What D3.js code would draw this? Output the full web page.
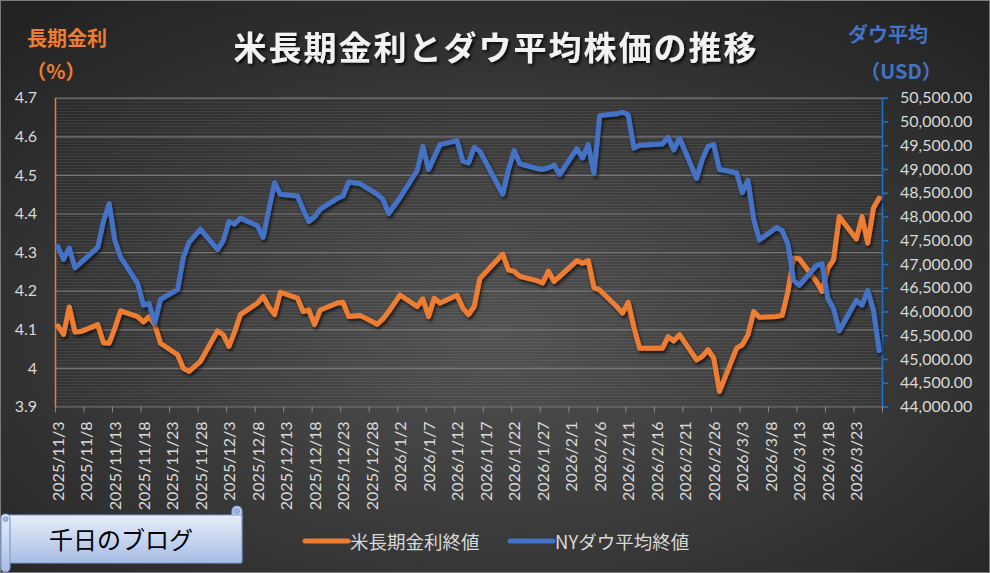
<!DOCTYPE html>
<html>
<head>
<meta charset="utf-8">
<script src="https://cdn.jsdelivr.net/npm/d3@7"></script>
<style>
  body { margin: 0; background: #2b2b2b; }
  svg { display: block; }
</style>
</head>
<body>
<svg id="chart"></svg>
<script>
// trading days shown in the chart
const dates = [
  "2025/11/3","2025/11/4","2025/11/5","2025/11/6","2025/11/7",
  "2025/11/10","2025/11/11","2025/11/12","2025/11/13","2025/11/14",
  "2025/11/17","2025/11/18","2025/11/19","2025/11/20","2025/11/21",
  "2025/11/24","2025/11/25","2025/11/26","2025/11/28",
  "2025/12/1","2025/12/2","2025/12/3","2025/12/4","2025/12/5",
  "2025/12/8","2025/12/9","2025/12/10","2025/12/11","2025/12/12",
  "2025/12/15","2025/12/16","2025/12/17","2025/12/18","2025/12/19",
  "2025/12/22","2025/12/23","2025/12/24","2025/12/26",
  "2025/12/29","2025/12/30","2025/12/31",
  "2026/1/2","2026/1/5","2026/1/6","2026/1/7","2026/1/8","2026/1/9",
  "2026/1/12","2026/1/13","2026/1/14","2026/1/15","2026/1/16",
  "2026/1/20","2026/1/21","2026/1/22","2026/1/23",
  "2026/1/26","2026/1/27","2026/1/28","2026/1/29","2026/1/30",
  "2026/2/2","2026/2/3","2026/2/4","2026/2/5","2026/2/6",
  "2026/2/9","2026/2/10","2026/2/11","2026/2/12","2026/2/13",
  "2026/2/17","2026/2/18","2026/2/19","2026/2/20",
  "2026/2/23","2026/2/24","2026/2/25","2026/2/26","2026/2/27",
  "2026/3/2","2026/3/3","2026/3/4","2026/3/5","2026/3/6",
  "2026/3/9","2026/3/10","2026/3/11","2026/3/12","2026/3/13",
  "2026/3/16","2026/3/17","2026/3/18","2026/3/19","2026/3/20",
  "2026/3/23","2026/3/24","2026/3/25","2026/3/26","2026/3/27"
];

// 米長期金利終値 (%)
const yieldVals = [
  4.109,4.087,4.158,4.093,4.094,
  4.112,4.065,4.064,4.103,4.148,
  4.133,4.119,4.133,4.112,4.064,
  4.034,3.999,3.991,4.017,
  4.096,4.086,4.056,4.094,4.138,
  4.168,4.185,4.158,4.138,4.196,
  4.181,4.146,4.150,4.112,4.150,
  4.168,4.170,4.133,4.136,
  4.113,4.127,4.146,
  4.189,4.159,4.179,4.133,4.181,4.168,
  4.188,4.155,4.138,4.159,4.232,
  4.295,4.254,4.250,4.237,
  4.226,4.220,4.251,4.224,4.237,
  4.278,4.271,4.278,4.208,4.202,
  4.159,4.142,4.170,4.105,4.051,
  4.051,4.081,4.070,4.086,
  4.021,4.030,4.047,4.025,3.939,
  4.051,4.060,4.086,4.146,4.131,
  4.133,4.136,4.198,4.284,4.283,
  4.224,4.198,4.258,4.280,4.392,
  4.334,4.392,4.323,4.414,4.440
];

// NYダウ平均終値 (USD)
const dowVals = [
  47365,47094,47338,46919,47024,
  47351,47900,48271,47491,47142,
  46585,46132,46166,45762,46257,
  46459,47142,47456,47735,
  47303,47491,47895,47839,47965,
  47804,47560,48150,48711,48467,
  48432,48150,47895,47990,48153,
  48383,48432,48731,48690,
  48467,48362,48062,
  48400,48968,49477,48990,49250,49512,
  49596,49164,49129,49456,49373,
  48467,48980,49387,49108,
  49010,48990,49024,49080,48885,
  49429,49233,49512,48899,50125,
  50160,50195,50139,49442,49498,
  49526,49665,49400,49652,
  48801,49205,49477,49512,48990,
  48920,48501,48759,47944,47505,
  47770,47700,47421,46654,46550,
  46968,47003,46271,46062,45595,
  46236,46132,46445,46027,45177
];

const xTickLabels = [
  "2025/11/3","2025/11/8","2025/11/13","2025/11/18","2025/11/23","2025/11/28",
  "2025/12/3","2025/12/8","2025/12/13","2025/12/18","2025/12/23","2025/12/28",
  "2026/1/2","2026/1/7","2026/1/12","2026/1/17","2026/1/22","2026/1/27",
  "2026/2/1","2026/2/6","2026/2/11","2026/2/16","2026/2/21","2026/2/26",
  "2026/3/3","2026/3/8","2026/3/13","2026/3/18","2026/3/23"
];
const xEnd = "2026/3/28";

const leftTicks = [3.9, 4.0, 4.1, 4.2, 4.3, 4.4, 4.5, 4.6, 4.7];
const rightTicks = [44000,44500,45000,45500,46000,46500,47000,47500,
                    48000,48500,49000,49500,50000,50500];

const W = 990, H = 573;
const pLeft = 55, pRight = 882, pTop = 97.7, pBottom = 406.5;

const parse = d3.timeParse("%Y/%m/%d");
const svg = d3.select("#chart").attr("width", W).attr("height", H);

const defs = svg.append("defs");
const bg = defs.append("radialGradient").attr("id", "bg")
  .attr("cx", "50%").attr("cy", "58%").attr("r", "72%");
bg.append("stop").attr("offset", "0%").attr("stop-color", "#515151");
bg.append("stop").attr("offset", "100%").attr("stop-color", "#232323");

const stripes = defs.append("pattern").attr("id", "stripes")
  .attr("patternUnits", "userSpaceOnUse").attr("width", 8).attr("height", 3);
stripes.append("rect").attr("width", 8).attr("height", 1)
  .attr("fill", "rgba(255,255,255,0.07)");

const shadow = defs.append("filter").attr("id", "shadow")
  .attr("x", "-5%").attr("y", "-10%").attr("width", "110%").attr("height", "120%");
shadow.append("feDropShadow").attr("dx", 1.5).attr("dy", 2.5)
  .attr("stdDeviation", 1.5).attr("flood-color", "#000").attr("flood-opacity", 0.65);

const tshadow = defs.append("filter").attr("id", "tshadow");
tshadow.append("feDropShadow").attr("dx", 2).attr("dy", 2)
  .attr("stdDeviation", 1.5).attr("flood-color", "#000").attr("flood-opacity", 0.8);

const scrollGrad = defs.append("linearGradient").attr("id", "scrollGrad")
  .attr("x1", 0).attr("y1", 0).attr("x2", 0).attr("y2", 1);
scrollGrad.append("stop").attr("offset", "0%").attr("stop-color", "#e6edf9");
scrollGrad.append("stop").attr("offset", "100%").attr("stop-color", "#a7bde5");

svg.append("rect").attr("width", W).attr("height", H).attr("fill", "url(#bg)");
svg.append("rect").attr("x", pLeft).attr("y", pTop)
  .attr("width", pRight - pLeft).attr("height", pBottom - pTop)
  .attr("fill", "url(#stripes)");
svg.append("rect").attr("x", 0.5).attr("y", 0.5).attr("width", W - 1).attr("height", H - 1)
  .attr("fill", "none").attr("stroke", "#7a7a7a");

// scales
const x = d3.scaleTime().domain([parse(dates[0]), parse(xEnd)]).range([pLeft, pRight]);
const yL = d3.scaleLinear().domain([3.9, 4.7]).range([pBottom, pTop]);
const yR = d3.scaleLinear().domain([44000, 50500]).range([pBottom, pTop]);

// gridlines
const grid = svg.append("g").attr("transform", `translate(${pLeft},0)`)
  .call(d3.axisLeft(yL).tickValues(leftTicks).tickSize(-(pRight - pLeft)).tickFormat(""));
grid.select(".domain").remove();
grid.selectAll("line").attr("stroke", "#777").attr("stroke-width", 1.2);

// left axis
const axL = svg.append("g").attr("transform", `translate(${pLeft},0)`)
  .call(d3.axisLeft(yL).tickValues(leftTicks).tickSize(0).tickPadding(18)
    .tickFormat(d => String(+d.toFixed(1))));
axL.select(".domain").attr("stroke", "#ED7D31").attr("stroke-width", 1.5);
axL.selectAll("text").attr("fill", "#d9d9d9")
  .style("font", "16px Lato, 'Noto Sans', sans-serif");

// right axis
const axR = svg.append("g").attr("transform", `translate(${pRight},0)`)
  .call(d3.axisRight(yR).tickValues(rightTicks).tickSize(6).tickSizeOuter(6)
    .tickPadding(12).tickFormat(d3.format(",.2f")));
axR.select(".domain").attr("stroke", "#1a73c9").attr("stroke-width", 1.5);
axR.selectAll("line").attr("stroke", "#1a73c9").attr("stroke-width", 1.5);
axR.selectAll("text").attr("fill", "#d9d9d9")
  .style("font", "16px Lato, 'Noto Sans', sans-serif");

// bottom axis
const labelSet = new Set(xTickLabels);
const fmt = d3.timeFormat("%Y/%-m/%-d");
const axB = svg.append("g").attr("transform", `translate(0,${pBottom})`)
  .call(d3.axisBottom(x).tickValues(xTickLabels.concat([xEnd]).map(parse))
    .tickSize(6).tickSizeOuter(0)
    .tickFormat(d => labelSet.has(fmt(d)) ? fmt(d) : ""));
axB.select(".domain").remove();
axB.selectAll("line").attr("stroke", "#8a8a8a").attr("stroke-width", 1);
const halfDay = (x(parse(dates[1])) - x(parse(dates[0]))) / 2;
axB.selectAll("text")
  .attr("fill", "#d9d9d9")
  .style("font", "16px Lato, 'Noto Sans', sans-serif")
  .attr("text-anchor", "end")
  .attr("transform", "rotate(-90)")
  .attr("x", -15).attr("y", halfDay).attr("dy", "0.35em");

// lines
const pts = dates.map((d, i) => ({ t: d3.timeHour.offset(parse(d), 12), r: yieldVals[i], dj: dowVals[i] }));
const lineR = d3.line().x(d => x(d.t)).y(d => yL(d.r));
const lineD = d3.line().x(d => x(d.t)).y(d => yR(d.dj));
svg.append("path").datum(pts).attr("d", lineR)
  .attr("fill", "none").attr("stroke", "#ED7D31").attr("stroke-width", 5)
  .attr("stroke-linejoin", "round").attr("stroke-linecap", "round")
  .attr("filter", "url(#shadow)");
svg.append("path").datum(pts).attr("d", lineD)
  .attr("fill", "none").attr("stroke", "#4472C4").attr("stroke-width", 5)
  .attr("stroke-linejoin", "round").attr("stroke-linecap", "round")
  .attr("filter", "url(#shadow)");

// titles
const jp = "'Noto Sans CJK JP', 'Noto Sans', sans-serif";
svg.append("text").attr("x", 496).attr("y", 46)
  .attr("text-anchor", "middle").attr("dominant-baseline", "central")
  .attr("fill", "#f2f2f2").attr("filter", "url(#tshadow)")
  .style("font-family", jp).style("font-size", "33px").style("font-weight", 700)
  .style("letter-spacing", "2px")
  .text("米長期金利とダウ平均株価の推移");

svg.append("text").attr("x", 67).attr("y", 37)
  .attr("text-anchor", "middle").attr("dominant-baseline", "central")
  .attr("fill", "#ED7D31").style("font-family", jp).style("font-size", "20px")
  .style("font-weight", 700).text("長期金利");
svg.append("text").attr("x", 56).attr("y", 70)
  .attr("text-anchor", "middle").attr("dominant-baseline", "central")
  .attr("fill", "#ED7D31").style("font-family", jp).style("font-size", "20px")
  .style("font-weight", 700).text("（%）");

svg.append("text").attr("x", 888).attr("y", 33)
  .attr("text-anchor", "middle").attr("dominant-baseline", "central")
  .attr("fill", "#4472C4").style("font-family", jp).style("font-size", "20px")
  .style("font-weight", 700).text("ダウ平均");
svg.append("text").attr("x", 901).attr("y", 70)
  .attr("text-anchor", "middle").attr("dominant-baseline", "central")
  .attr("fill", "#4472C4").style("font-family", jp).style("font-size", "20px")
  .style("font-weight", 700).text("（USD）");

// legend
const legend = [
  { name: "米長期金利終値", color: "#ED7D31", x: 305 },
  { name: "NYダウ平均終値", color: "#4472C4", x: 510 }
];
const lg = svg.selectAll(".lg").data(legend).join("g").attr("class", "lg")
  .attr("transform", d => `translate(${d.x},541)`);
lg.append("line").attr("x1", 0).attr("x2", 43)
  .attr("stroke", d => d.color).attr("stroke-width", 5).attr("stroke-linecap", "round");
lg.append("text").attr("x", 45).attr("dominant-baseline", "central")
  .attr("fill", "#d9d9d9").style("font-family", jp).style("font-size", "18.5px")
  .text(d => d.name);

// scroll banner
const sc = svg.append("g");
sc.append("rect").attr("x", 232).attr("y", 506).attr("width", 10).attr("height", 16)
  .attr("rx", 5).attr("fill", "#c3d3ef").attr("stroke", "#7f9dd3").attr("stroke-width", 1.2);
sc.append("rect").attr("x", 7).attr("y", 515).attr("width", 235).attr("height", 48)
  .attr("rx", 2).attr("fill", "url(#scrollGrad)").attr("stroke", "#7f9dd3").attr("stroke-width", 1.2);
sc.append("rect").attr("x", 1).attr("y", 514).attr("width", 9).attr("height", 58)
  .attr("rx", 4.5).attr("fill", "url(#scrollGrad)").attr("stroke", "#7f9dd3").attr("stroke-width", 1.2);
sc.append("circle").attr("cx", 5.5).attr("cy", 519).attr("r", 2.5)
  .attr("fill", "#9fb6e0").attr("stroke", "#7f9dd3");
sc.append("circle").attr("cx", 237).attr("cy", 511).attr("r", 2.5)
  .attr("fill", "#9fb6e0").attr("stroke", "#7f9dd3");
sc.append("text").attr("x", 121).attr("y", 538)
  .attr("text-anchor", "middle").attr("dominant-baseline", "central")
  .attr("fill", "#000").style("font-family", jp).style("font-size", "24px")
  .text("千日のブログ");
</script>
</body>
</html>
